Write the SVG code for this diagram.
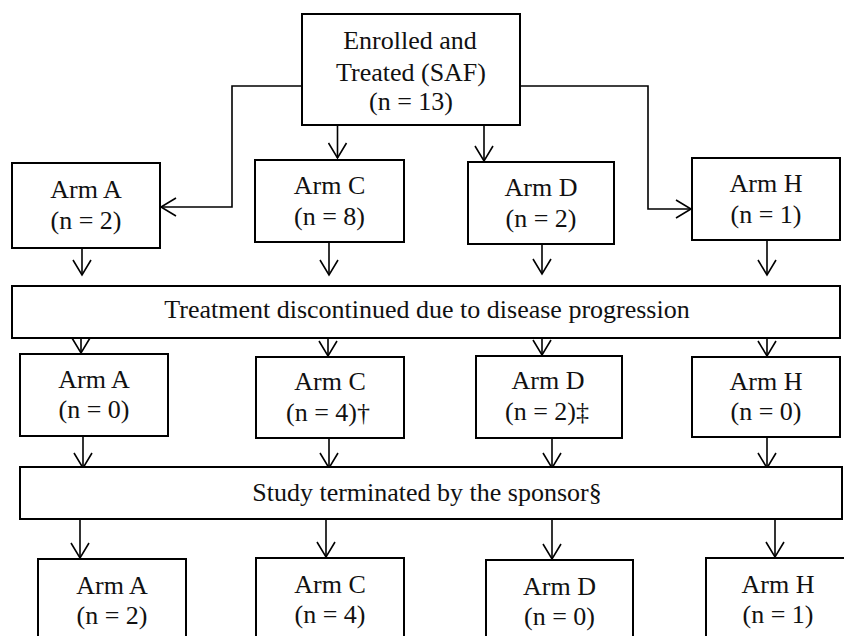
<svg xmlns="http://www.w3.org/2000/svg" width="844" height="636" viewBox="0 0 844 636">
<defs>
<style>
.box{fill:#fff;stroke:#000;stroke-width:2}
.t{font-family:'Liberation Serif','Times New Roman',serif;font-size:26px;fill:#111;text-anchor:middle}
.c{fill:none;stroke:#000;stroke-width:1.6}
</style>
<marker id="ah" viewBox="0 0 20 20" markerWidth="20" markerHeight="20" refX="16" refY="10" markerUnits="userSpaceOnUse" orient="auto">
<path d="M1 1 L16 10 L1 19" fill="none" stroke="#000" stroke-width="1.6"/>
</marker>
</defs>
<rect width="844" height="636" fill="#fff"/>

<g id="connectors">
<path class="c" d="M302 86 H232 V207 H161" marker-end="url(#ah)"/>
<path class="c" d="M520 86 H648 V209 H691" marker-end="url(#ah)"/>
<path class="c" d="M337.5 125 V158" marker-end="url(#ah)"/>
<path class="c" d="M484 125 V161" marker-end="url(#ah)"/>
<path class="c" d="M82 248 V275" marker-end="url(#ah)"/>
<path class="c" d="M329 242 V275" marker-end="url(#ah)"/>
<path class="c" d="M542 244 V274" marker-end="url(#ah)"/>
<path class="c" d="M767 240 V275" marker-end="url(#ah)"/>
<path class="c" d="M81 328 V353" marker-end="url(#ah)"/>
<path class="c" d="M328 328 V356" marker-end="url(#ah)"/>
<path class="c" d="M542 328 V355" marker-end="url(#ah)"/>
<path class="c" d="M767 328 V356" marker-end="url(#ah)"/>
<path class="c" d="M83 436 V468" marker-end="url(#ah)"/>
<path class="c" d="M329 438 V468" marker-end="url(#ah)"/>
<path class="c" d="M552 438 V468" marker-end="url(#ah)"/>
<path class="c" d="M767 437 V468" marker-end="url(#ah)"/>
<path class="c" d="M80 519 V558" marker-end="url(#ah)"/>
<path class="c" d="M326 519 V557" marker-end="url(#ah)"/>
<path class="c" d="M552 519 V559" marker-end="url(#ah)"/>
<path class="c" d="M775 519 V557" marker-end="url(#ah)"/>
</g>

<g id="enrolled">
<rect class="box" x="302" y="14" width="218" height="111"/>
<text class="t" x="410" y="49">Enrolled and</text>
<text class="t" x="411" y="81">Treated (SAF)</text>
<text class="t" x="411" y="110">(n = 13)</text>
</g>

<g id="r1a">
<rect class="box" x="12" y="163" width="148" height="85"/>
<text class="t" x="86" y="198">Arm A</text>
<text class="t" x="86" y="229">(n = 2)</text>
</g>
<g id="r1c">
<rect class="box" x="255" y="160" width="149" height="82"/>
<text class="t" x="329.5" y="194">Arm C</text>
<text class="t" x="329.5" y="225">(n = 8)</text>
</g>
<g id="r1d">
<rect class="box" x="468" y="162" width="146" height="82"/>
<text class="t" x="541" y="196">Arm D</text>
<text class="t" x="541" y="227">(n = 2)</text>
</g>
<g id="r1h">
<rect class="box" x="692" y="158" width="148" height="82"/>
<text class="t" x="766" y="192">Arm H</text>
<text class="t" x="766" y="223">(n = 1)</text>
</g>

<g id="discontinued">
<rect class="box" x="12" y="286" width="828" height="52"/>
<text class="t" x="427" y="318">Treatment discontinued due to disease progression</text>
</g>

<g id="r2a">
<rect class="box" x="20" y="354" width="148" height="82"/>
<text class="t" x="94" y="388">Arm A</text>
<text class="t" x="94" y="418">(n = 0)</text>
</g>
<g id="r2c">
<rect class="box" x="256" y="357" width="148" height="81"/>
<text class="t" x="330" y="390">Arm C</text>
<text class="t" x="328" y="421">(n = 4)†</text>
</g>
<g id="r2d">
<rect class="box" x="476" y="356" width="146" height="82"/>
<text class="t" x="548" y="389">Arm D</text>
<text class="t" x="547" y="420">(n = 2)‡</text>
</g>
<g id="r2h">
<rect class="box" x="692" y="357" width="148" height="80"/>
<text class="t" x="766" y="390">Arm H</text>
<text class="t" x="766" y="420">(n = 0)</text>
</g>

<g id="terminated">
<rect class="box" x="20" y="467" width="822" height="52"/>
<text class="t" x="427" y="501">Study terminated by the sponsor§</text>
</g>

<g id="r3a">
<rect class="box" x="38" y="559" width="148" height="90"/>
<text class="t" x="112" y="594">Arm A</text>
<text class="t" x="112" y="624">(n = 2)</text>
</g>
<g id="r3c">
<rect class="box" x="256" y="558" width="148" height="90"/>
<text class="t" x="330" y="593">Arm C</text>
<text class="t" x="330" y="623">(n = 4)</text>
</g>
<g id="r3d">
<rect class="box" x="486" y="560" width="147" height="90"/>
<text class="t" x="559.5" y="595">Arm D</text>
<text class="t" x="559.5" y="625">(n = 0)</text>
</g>
<g id="r3h">
<rect class="box" x="706" y="558" width="144" height="90"/>
<text class="t" x="778" y="593">Arm H</text>
<text class="t" x="778" y="623">(n = 1)</text>
</g>
</svg>
